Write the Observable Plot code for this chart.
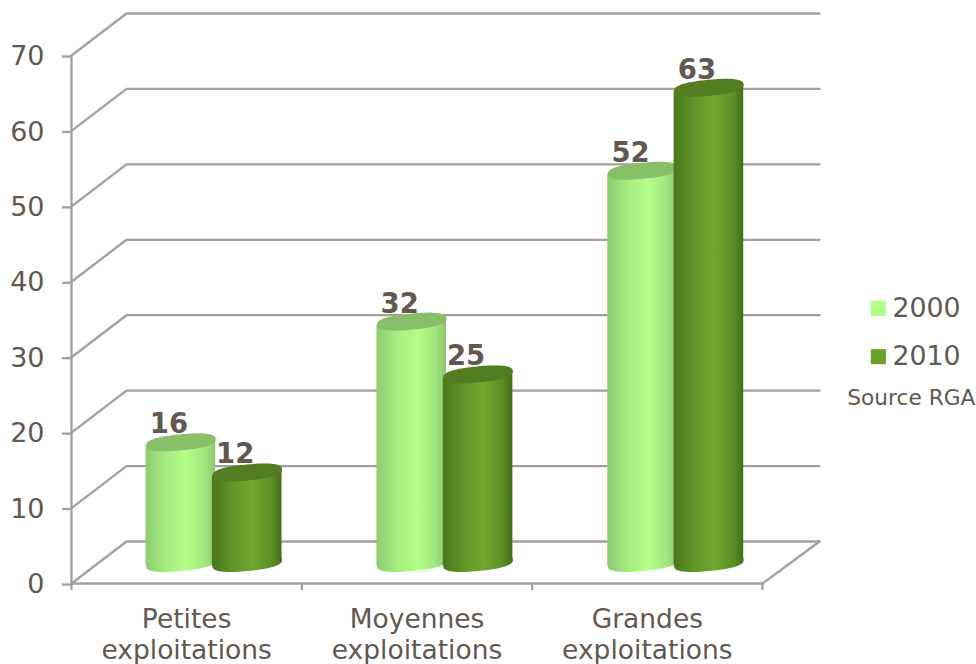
<!DOCTYPE html>
<html><head><meta charset="utf-8">
<style>html,body{margin:0;padding:0;background:#fff;overflow:hidden}</style>
<script src="https://cdn.jsdelivr.net/npm/d3@7"></script>
<script src="https://cdn.jsdelivr.net/npm/@observablehq/plot@0.6"></script>
</head><body>
<script>
const categories = ["Petites\nexploitations", "Moyennes\nexploitations", "Grandes\nexploitations"];
const values2000 = [16, 32, 52];
const values2010 = [12, 25, 63];
const years = ["2000", "2010"];
const yTicks = [0, 10, 20, 30, 40, 50, 60, 70];
const sourceNote = "Source RGA";

// styling
const ink = "#62584f", gridColor = "#a3a09b", font = "DejaVu Sans";
const pxX = 3 / 691, pxY = 70 / 528;          // px to data units
const depthLeft = 55 * pxX, depthRight = 57 * pxX, depthY = 42 * pxY;
const halfW = 34.8 * pxX, skew = 3.4 * pxY;
const midY = depthY / 2 - 0.5 * pxY;
const slots = {"2000": 0.475, "2010": 0.763};
const fills = {
  "2000": {body: "url(#g2000)", top: "#8abf69", swatch: "#b2fd88"},
  "2010": {body: "url(#g2010)", top: "#527d20", swatch: "#6ba12b"}
};
const vals = {"2000": values2000, "2010": values2010};
const cylinders = yr => vals[yr].map((v, i) => ({i, v, yr, cx: i * (1 + 0.5 * pxX) + slots[yr]}));
const edges = yr => cylinders(yr).flatMap(c => [
  {id: c.i, x: c.cx - halfW, lo: midY - skew, hi: c.v + midY - skew},
  {id: c.i, x: c.cx + halfW, lo: midY + skew, hi: c.v + midY + skew}
]);
// slightly squared, tilted ellipse used as the symbol of the cylinder caps
const ellipse = {draw(ctx) {
  const a = 34.9, b = 8, t = -5.5 * Math.PI / 180, n = 96, p = 2 / 2.5;
  for (let k = 0; k < n; ++k) {
    const u = k / n * 2 * Math.PI, cu = Math.cos(u), su = Math.sin(u);
    const ex = a * Math.sign(cu) * Math.abs(cu) ** p, ey = b * Math.sign(su) * Math.abs(su) ** p;
    const px = ex * Math.cos(t) - ey * Math.sin(t), py = ex * Math.sin(t) + ey * Math.cos(t);
    k ? ctx.lineTo(px, py) : ctx.moveTo(px, py);
  }
  ctx.closePath();
}};
const cylinderMarks = yr => [
  Plot.dot(cylinders(yr), {x: "cx", y: () => midY, r: 10, symbol: ellipse, fill: fills[yr].body}),
  Plot.areaY(edges(yr), {x: "x", y1: "lo", y2: "hi", z: "id", fill: fills[yr].body}),
  Plot.dot(cylinders(yr), {x: "cx", y: d => d.v + midY, r: 10, symbol: ellipse, fill: fills[yr].top})
];
const gridPaths = yTicks.flatMap(v => [
  {v, x: 0, y: v}, {v, x: depthLeft, y: v + depthY}, {v, x: 3 + depthRight, y: v + depthY}
]);
const floorEdge = [{x: 0, y: 0}, {x: 3, y: 0}, {x: 3 + depthRight, y: depthY}];
const barLabels = [...cylinders("2000"), ...cylinders("2010")];

const plot = Plot.plot({
  width: 976, height: 664,
  marginLeft: 71, marginRight: 214, marginTop: 55, marginBottom: 81,
  style: {fontFamily: font, background: "#fff", overflow: "visible"},
  x: {domain: [0, 3], axis: null},
  y: {domain: [0, 70], axis: null},
  marks: [
    Plot.line(gridPaths, {x: "x", y: "y", z: "v", stroke: gridColor, strokeWidth: 2.3}),
    Plot.line(floorEdge, {x: "x", y: "y", stroke: gridColor, strokeWidth: 2.3}),
    Plot.ruleX([0], {y1: 0, y2: 70, stroke: gridColor, strokeWidth: 2.3}),
    Plot.axisY({ticks: yTicks, tickSize: 9, tickPadding: 18, label: null, fontSize: 27, dy: 1,
      stroke: gridColor, strokeWidth: 2.3, fill: ink}),
    Plot.axisX({ticks: [0, 1, 2, 3], tickSize: 7, tickFormat: () => "", label: null,
      stroke: gridColor, strokeWidth: 2.3}),
    ...cylinderMarks("2000"),
    ...cylinderMarks("2010"),
    Plot.text(barLabels, {x: "cx", y: d => d.v + midY, text: d => String(d.v), dx: -12, dy: -9,
      lineAnchor: "bottom", fontSize: 27.5, fontWeight: "bold", fill: ink}),
    Plot.text(categories, {x: (d, i) => i + 0.5, y: () => 0, text: d => d, dy: 22, lineAnchor: "top",
      lineHeight: 1.17, fontSize: 26.5, fill: ink}),
    Plot.dot(years, {x: () => 3.503, y: (d, i) => 36.47 - i * 6.4, r: 8.5, symbol: "square",
      fill: d => fills[d].swatch}),
    Plot.text(years, {x: () => 3.564, y: (d, i) => 36.47 - i * 6.4, text: d => d, textAnchor: "start",
      fontSize: 26.8, fill: ink}),
    Plot.text([sourceNote], {x: () => 3.368, y: () => 24.6, text: d => d, textAnchor: "start",
      fontSize: 21.7, fill: ink})
  ].flat()
});
const svg = d3.select(plot);
const defs = svg.insert("defs", ":first-child");
const grad = (id, stops) => {
  const g = defs.append("linearGradient").attr("id", id).attr("x1", 0).attr("x2", 1).attr("y1", 0).attr("y2", 0);
  stops.forEach(([o, c]) => g.append("stop").attr("offset", o).attr("stop-color", c));
};
grad("g2000", [[0, "#8ecb73"], [0.3, "#a6ec80"], [0.58, "#b3ff89"], [0.85, "#a2e67e"], [1, "#8cc670"]]);
grad("g2010", [[0, "#487719"], [0.3, "#62962a"], [0.58, "#6fa72e"], [0.85, "#5d9026"], [1, "#457018"]]);
document.body.appendChild(plot);
</script>
</body></html>
